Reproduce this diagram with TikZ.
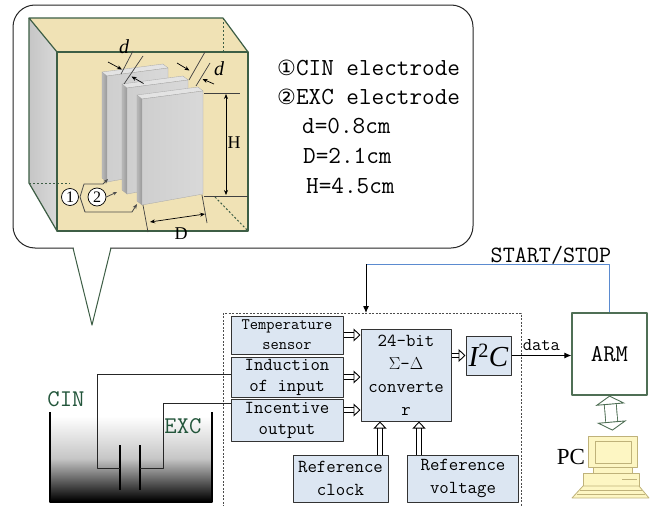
\documentclass[tikz,border=0pt]{standalone}
\usepackage{fontspec}
\setmainfont{Liberation Serif}
\newfontfamily\symf{DejaVu Sans}
\usetikzlibrary{arrows.meta,calc}

\definecolor{tankhaki}{HTML}{F0E2B5}
\definecolor{boxgreen}{HTML}{3D5E45}
\definecolor{blockfill}{HTML}{DCE6F2}
\definecolor{startblue}{HTML}{5B8BD0}
\definecolor{labgreen}{HTML}{22553A}
\definecolor{pcfill}{HTML}{FDF6C3}
\definecolor{pcline}{HTML}{BFB27A}
\definecolor{armgreen}{HTML}{4F6F55}

\tikzset{
  block/.style={draw=black!80, line width=1pt, fill=blockfill, align=center,
    inner sep=0pt, font=\ttfamily\fontsize{18.3}{21}\selectfont},
  harrow/.style={double, double distance=3.5pt, line width=0.9pt,
    -{Triangle[open, length=7pt, width=13pt, line width=0.9pt]}},
  pcarrow/.style={double, double distance=11pt, line width=0.9pt, draw=armgreen,
    {Triangle[open, length=9pt, width=30pt, line width=0.9pt]}-{Triangle[open, length=9pt, width=30pt, line width=0.9pt]}},
  dimarrow/.style={line width=0.7pt, {Stealth[length=5pt,width=4pt]}-{Stealth[length=5pt,width=4pt]}},
  onearrow/.style={line width=0.7pt, -{Stealth[length=5pt,width=4pt]}},
  wire/.style={draw=black!85, line width=1pt},
  plateline/.style={draw=gray!70, line width=0.3pt},
  legend/.style={anchor=west, inner sep=0pt, font=\ttfamily\fontsize{24.5}{26}\selectfont}
}

% one electrode plate; #1,#2 = top-left corner of its front face
\newcommand\drawplate[2]{%
  \begin{scope}[shift={(#1,#2)}]
    \shade[left color=gray!55, right color=gray!80, plateline] (0,0) -- (-5,-4) -- (-5,102) -- (0,106) -- cycle;
    \fill[gray!22, plateline] (0,0) -- (61,-8) -- (56,-12) -- (-5,-4) -- cycle;
    \shade[left color=gray!38, right color=gray!30, plateline] (0,0) -- (61,-8) -- (61,95) -- (0,106) -- cycle;
  \end{scope}}

\begin{document}
\begin{tikzpicture}[x=1pt,y=-1pt,line join=round]
\useasboundingbox (0,0) rectangle (659,506);

% ---------- speech bubble ----------
\draw[line width=1pt, draw=black!85, fill=white, rounded corners=22pt] (13,5) rectangle (473,248);
\fill[white] (73.5,246.4) -- (92,325) -- (110.5,246.4) -- cycle;
\draw[line width=1pt, draw=boxgreen] (73,248) -- (92,325) -- (111,248);

% ---------- tank with electrodes ----------
\fill[tankhaki] (29,18) -- (223,18) -- (248,52) -- (248,231) -- (57,231) -- (29,183) -- cycle;
\shade[left color=gray!45, right color=gray!30] (29,18) -- (57,52) -- (57,231) -- (29,183) -- cycle;
\draw[boxgreen, line width=1pt, dash pattern=on 2pt off 2pt] (29,183) -- (70,183);
\draw[boxgreen, line width=1pt, dash pattern=on 2pt off 2pt] (223,18) -- (223,52);
\draw[boxgreen, line width=1pt, dash pattern=on 2pt off 2pt] (215,197) -- (248,231);
\draw[boxgreen, line width=1.2pt] (57,52) -- (29,18) -- (223,18) -- (248,52);
\draw[boxgreen, line width=1.2pt] (29,18) -- (29,183) -- (57,231);
\draw[boxgreen, line width=1.2pt] (57,52) rectangle (248,231);

\drawplate{107}{76}
\drawplate{127}{88}
\drawplate{142}{99}

% dimension marks
\draw[black!75, line width=0.7pt] (133,51) -- (121,74);
\draw[black!75, line width=0.7pt] (143,56) -- (124,84);
\draw[onearrow] (108,62) -- (122,69.5);
\draw[onearrow] (143.5,83.5) -- (131.5,76.5);
\node[font=\fontsize{20}{20}\selectfont\itshape, inner sep=0pt] (dA) at (124,47) {d};

\draw[black!75, line width=0.7pt] (205,52) -- (189,80);
\draw[black!75, line width=0.7pt] (210,63) -- (196,86);
\draw[onearrow] (177,63) -- (189.5,70.5);
\draw[onearrow] (214,84) -- (202.5,79);
\node[font=\fontsize{20}{20}\selectfont\itshape, inner sep=0pt] (dB) at (219,69) {d};

\draw[black!75, line width=0.7pt] (204,93) -- (240,93);
\draw[black!75, line width=0.7pt] (204,196) -- (248,196);
\draw[dimarrow] (226,94) -- (226,195);
\node[font=\fontsize{18}{18}\selectfont, inner sep=0pt] (hL) at (234,143) {H};

\draw[black!75, line width=0.7pt] (143,205) -- (148,232);
\draw[black!75, line width=0.7pt] (202,195) -- (207,223);
\draw[dimarrow] (150,222) -- (205,214);
\node[font=\fontsize{18}{18}\selectfont, inner sep=0pt] (dL) at (181,234) {D};

% electrode markers
\node[circle, draw, fill=white, line width=0.7pt, minimum size=17pt, inner sep=0pt,
      font=\fontsize{16}{16}\selectfont] (c1) at (70,197) {1};
\node[circle, draw, fill=white, line width=0.7pt, minimum size=18pt, inner sep=0pt,
      font=\fontsize{16}{16}\selectfont] (c2) at (97,197) {2};
\draw[black!70, line width=0.8pt, {Stealth[length=5pt,width=4pt]}-{Stealth[length=5pt,width=4pt]}]
  (108,179) -- (103,184) -- (84,184) -- (80,197) -- (85,212) -- (132,212) -- (137,204);
\draw[black!70, line width=0.8pt, -{Stealth[length=4pt,width=3.5pt]}] (c2.east) -- (117,192);

% legend
\node[legend] (t1) at (277,68) {{\symf\fontsize{21}{21}\selectfont ①}CIN electrode};
\node[legend] (t2) at (277,97) {{\symf\fontsize{21}{21}\selectfont ②}EXC electrode};
\node[legend] (t3) at (302,126) {d=0.8cm};
\node[legend] (t4) at (303,156) {D=2.1cm};
\node[legend] (t5) at (306,186) {H=4.5cm};

% ---------- beaker ----------
\shade[top color=white, bottom color=black, middle color=gray!45] (51,416) rectangle (211,501);
\draw[line width=2.6pt, line cap=butt] (50,412) -- (50,502) -- (212,502) -- (212,412);
\coordinate (cinE) at (120,468);
\coordinate (excE) at (140,468);
\draw[line width=2.6pt] (120,445) -- (120,490);
\draw[line width=2.6pt] (140,445) -- (140,490);
\node[font=\ttfamily\fontsize{24}{24}\selectfont, text=labgreen, inner sep=0pt] (cinL) at (66,399) {CIN};
\node[font=\ttfamily\fontsize{24}{24}\selectfont, text=labgreen, inner sep=0pt] (excL) at (183,426) {EXC};

% ---------- acquisition board ----------
\draw[black!70, line width=0.7pt, dash pattern=on 2pt off 1.5pt] (223,507) -- (223,313) -- (521,313) -- (521,507);

\node[block, minimum width=112pt, minimum height=38pt, font=\ttfamily\fontsize{16}{20}\selectfont] (temp) at (287,335) {Temperature\\sensor};
\node[block, minimum width=112pt, minimum height=40pt] (induct) at (287,377) {Induction\\of input};
\node[block, minimum width=112pt, minimum height=42pt] (incent) at (287,420) {Incentive\\output};
\node[block, minimum width=90pt, minimum height=92pt, font=\ttfamily\fontsize{18.3}{23}\selectfont] (conv) at (406,375) {24-bit\\$\Sigma$-$\Delta$\\converte\\r};
\node[block, minimum width=45pt, minimum height=39pt, font=\fontsize{29}{29}\selectfont] (i2c) at (488.5,355.5) {\itshape I\textsuperscript{\upshape 2}C};
\node[block, minimum width=95pt, minimum height=47pt, font=\ttfamily\fontsize{18.3}{23}\selectfont] (clock) at (340.5,478.5) {Reference\\clock};
\node[block, minimum width=111pt, minimum height=47pt, font=\ttfamily\fontsize{18.3}{23}\selectfont] (volt) at (463,478.5) {Reference\\voltage};

\draw[wire] (cinE) -- ++(-23,0) |- ([yshift=3pt]induct.west);
\draw[wire] (excE) -- ++(23,0) |- ([yshift=17pt]incent.west);

\draw[harrow] (temp.east) -- (temp.east -| conv.west);
\draw[harrow] (induct.east) -- (induct.east -| conv.west);
\draw[harrow] ([yshift=10pt]incent.east) -- ([yshift=10pt]incent.east -| conv.west);
\draw[harrow] ([xshift=39.5pt]clock.north) -- ([xshift=39.5pt]clock.north |- conv.south);
\draw[harrow] ([xshift=-44pt]volt.north) -- ([xshift=-44pt]volt.north |- conv.south);
\draw[harrow] (conv.east |- i2c.west) -- (i2c.west);

% ---------- controller ----------
\node[draw=armgreen, line width=1.2pt, fill=white, minimum width=75pt, minimum height=82pt,
      font=\ttfamily\fontsize{24}{24}\selectfont] (arm) at (609.5,354) {ARM};
\draw[line width=1pt, -{Latex[length=7pt,width=6pt]}] (i2c.east) -- (i2c.east -| arm.west)
  node[midway, above=1pt, font=\ttfamily\fontsize{18}{18}\selectfont] (dataL) {data};

\coordinate (ss) at (366,264);
\coordinate (dtop) at (366,313);
\draw[startblue, line width=1pt] (arm.north) |- (ss);
\draw[line width=1pt, -{Latex[length=7pt,width=6pt]}] (ss) -- (dtop);
\node[font=\ttfamily\fontsize{23.4}{23.4}\selectfont, inner sep=0pt] (ssL) at (551,255) {START/STOP};

% ---------- PC ----------
\node[draw=pcline, fill=pcfill, line width=0.8pt, minimum width=49pt, minimum height=31pt, inner sep=0pt] (pc) at (612.5,451.5) {};
\draw[pcline, line width=0.8pt] (595,441) rectangle (631,463);
\draw[pcline, fill=pcfill, line width=0.8pt] (593,467) rectangle (632,473);
\draw[pcline, fill=pcfill, line width=0.8pt] (583,473) rectangle (639,486);
\draw[pcline, line width=0.8pt] (622,479) -- (637,479);
\draw[pcline, fill=pcfill, line width=0.8pt] (583,486) -- (639,486) -- (649,498) -- (572,498) -- cycle;
\draw[pcline, line width=0.6pt] (580,490) -- (642,490);
\draw[pcline, line width=0.6pt] (577,494) -- (645,494);
\node[font=\fontsize{23}{23}\selectfont, inner sep=0pt] (pcL) at (571,457) {PC};

\draw[pcarrow] (arm.south) -- ([yshift=5pt]pc.north);

\end{tikzpicture}
\end{document}
